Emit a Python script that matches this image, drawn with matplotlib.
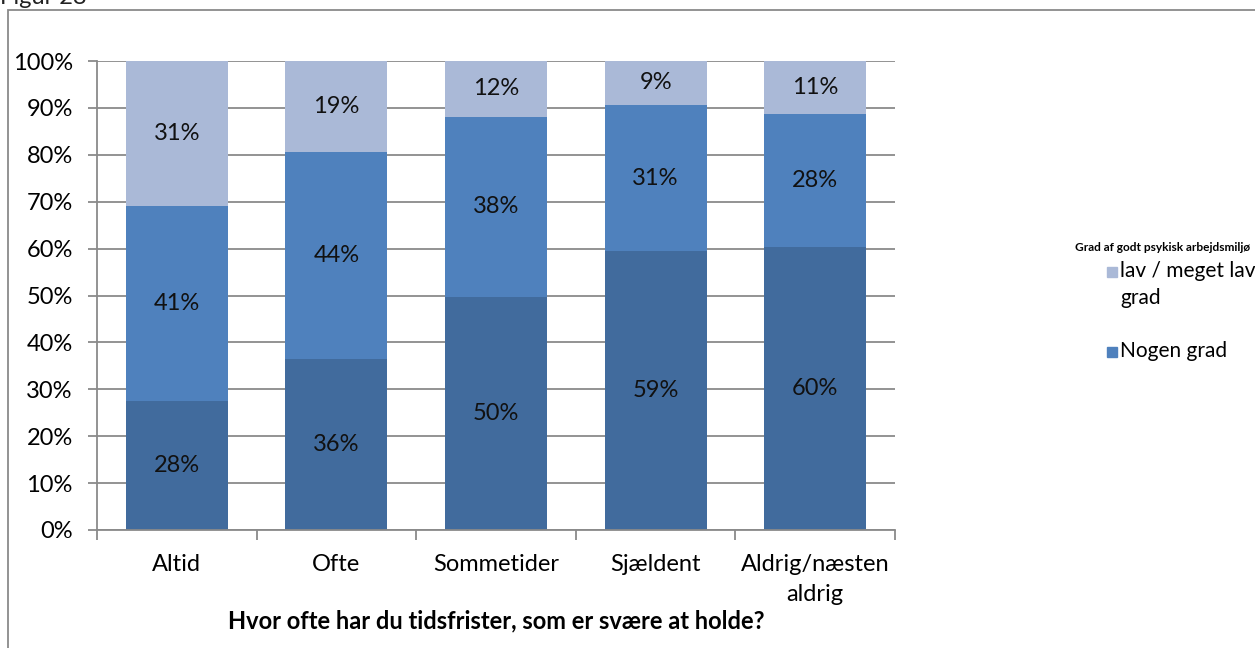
import matplotlib
matplotlib.use("Agg")
import matplotlib.pyplot as plt
from matplotlib.patches import Rectangle
from matplotlib.ticker import PercentFormatter

categories = ["Altid", "Ofte", "Sommetider", "Sjældent", "Aldrig/næsten\naldrig"]
hoj = [27.6, 36.4, 49.7, 59.4, 60.3]
nogen = [41.4, 44.2, 38.4, 31.3, 28.3]
lav = [31.0, 19.4, 11.9, 9.3, 11.4]
yticks = list(range(0, 101, 10))
legend_title = "Grad af godt psykisk arbejdsmiljø"
legend_labels = ["lav / meget lav\ngrad", "Nogen grad"]
xlabel = "Hvor ofte har du tidsfrister, som er svære at holde?"

c_dark = "#416B9D"
c_mid = "#4F81BD"
c_light = "#AAB9D7"
grid_c = "#8a8a8a"
FS = 17

plt.rcParams['font.family'] = ['Lato', 'DejaVu Sans']

W, H = 1255, 648
fig = plt.figure(figsize=(W/100, H/100), dpi=100)
fig.patches.append(Rectangle((8/W, -0.01), 1.2, (H-10)/H + 0.01, transform=fig.transFigure,
                             fill=False, edgecolor=grid_c, lw=1.3))
fig.text(0/W, 1 - 4/H, "Figur 28", fontsize=FS, va="baseline", ha="left", color="#222")

ax = fig.add_axes([97/W, (H-530)/H, (895-97)/W, (530-61)/H])
x = list(range(len(categories)))
w = 0.64
ax.bar(x, hoj, w, color=c_dark, zorder=2)
ax.bar(x, nogen, w, bottom=hoj, color=c_mid, zorder=2)
bottom3 = [a + b for a, b in zip(hoj, nogen)]
ax.bar(x, lav, w, bottom=bottom3, color=c_light, zorder=2)

for vals, bots in ((hoj, [0]*len(hoj)), (nogen, hoj), (lav, bottom3)):
    for xi, v, bo in zip(x, vals, bots):
        ax.text(xi, bo + v/2, f"{round(v)}%", ha="center", va="center", fontsize=FS, color="#111", zorder=3)

ax.set_ylim(0, 100)
ax.set_xlim(-0.5, len(categories) - 0.5)
ax.set_yticks(yticks)
ax.yaxis.set_major_formatter(PercentFormatter(decimals=0))
ax.yaxis.grid(True, color=grid_c, lw=1.3, zorder=1)
ax.set_axisbelow(True)
ax.set_xticks([i - 0.5 for i in range(len(categories) + 1)])
ax.set_xticklabels([""] * (len(categories) + 1))
ax.set_xticks(x, minor=True)
ax.set_xticklabels(categories, minor=True, fontsize=FS, linespacing=1.55)
ax.tick_params(axis="x", which="minor", length=0, pad=17)
ax.tick_params(axis="x", which="major", length=7, direction="out", color=grid_c, width=1.3)
ax.tick_params(axis="y", length=6.5, direction="out", color=grid_c, width=1.3, labelsize=FS, pad=11)
for s in ("top", "right"):
    ax.spines[s].set_visible(False)
for s in ("left", "bottom"):
    ax.spines[s].set_color(grid_c)
    ax.spines[s].set_linewidth(1.3)

ax.set_xlabel(xlabel, fontsize=FS, fontweight="bold", labelpad=3)

fig.text(1250/W, 1 - 248/H, legend_title, fontsize=8.6, fontweight="bold",
         ha="right", va="center")
for lab, col, yc in zip(legend_labels, [c_light, c_mid], [272, 352]):
    fig.patches.append(Rectangle((1107/W, 1 - (yc + 5)/H), 10/W, 10/H, transform=fig.transFigure,
                                 color=col))
    fig.text(1120/W, 1 - (yc - 11)/H, lab, fontsize=15, ha="left", va="top", linespacing=1.45)

fig.savefig("out.png", dpi=100)
